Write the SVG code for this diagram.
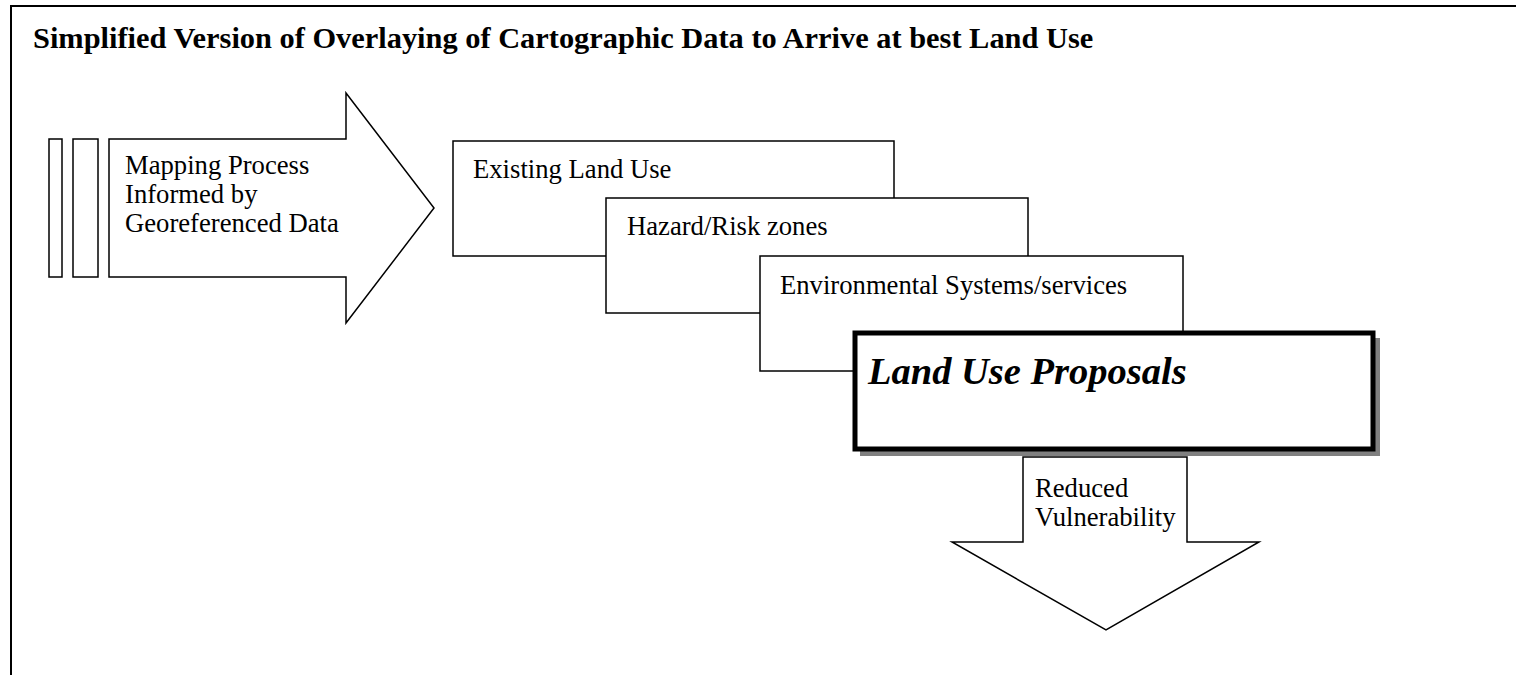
<svg xmlns="http://www.w3.org/2000/svg" width="1516" height="675" viewBox="0 0 1516 675">
<style>
.t{font-family:"Liberation Serif","Times New Roman",serif;font-size:26.67px;fill:#000}
.title{font-family:"Liberation Serif","Times New Roman",serif;font-size:30.4px;font-weight:bold;fill:#000}
.big{font-family:"Liberation Serif","Times New Roman",serif;font-size:38.5px;font-weight:bold;font-style:italic;fill:#000}
.s{fill:#fff;stroke:#000;stroke-width:1.5}
</style>
<rect width="1516" height="675" fill="#fff"/>
<g id="frame">
<path d="M11,680 V6 H1520" fill="none" stroke="#000" stroke-width="2"/>
<text class="title" x="33" y="48">Simplified Version of Overlaying of Cartographic Data to Arrive at best Land Use</text>
</g>
<g id="mapping-arrow">
<rect class="s" x="49" y="139" width="13" height="138"/>
<rect class="s" x="73" y="139" width="25" height="138"/>
<polygon class="s" points="109,139 346,139 346,93 434,208 346,323 346,277 109,277"/>
<text class="t" x="125" y="174">Mapping Process</text>
<text class="t" x="125" y="203">Informed by</text>
<text class="t" x="125" y="232">Georeferenced Data</text>
</g>
<g id="existing-land-use">
<rect class="s" x="453" y="141" width="441" height="115"/>
<text class="t" x="473" y="178">Existing Land Use</text>
</g>
<g id="hazard-risk">
<rect class="s" x="606" y="198" width="422" height="115"/>
<text class="t" x="627" y="235">Hazard/Risk zones</text>
</g>
<g id="environmental">
<rect class="s" x="760" y="256" width="423" height="115"/>
<text class="t" x="780" y="294">Environmental Systems/services</text>
</g>
<g id="land-use-proposals">
<rect x="860" y="338" width="520" height="118" fill="#808080"/>
<rect x="855" y="333" width="518" height="116" fill="#fff" stroke="#000" stroke-width="5"/>
<text class="big" x="868" y="384">Land Use Proposals</text>
</g>
<g id="connectors">
<polygon class="s" points="1023,457 1187,457 1187,542 1259,542 1106,630 952,542 1023,542"/>
<text class="t" x="1035" y="497">Reduced</text>
<text class="t" x="1035" y="526">Vulnerability</text>
</g>
</svg>
